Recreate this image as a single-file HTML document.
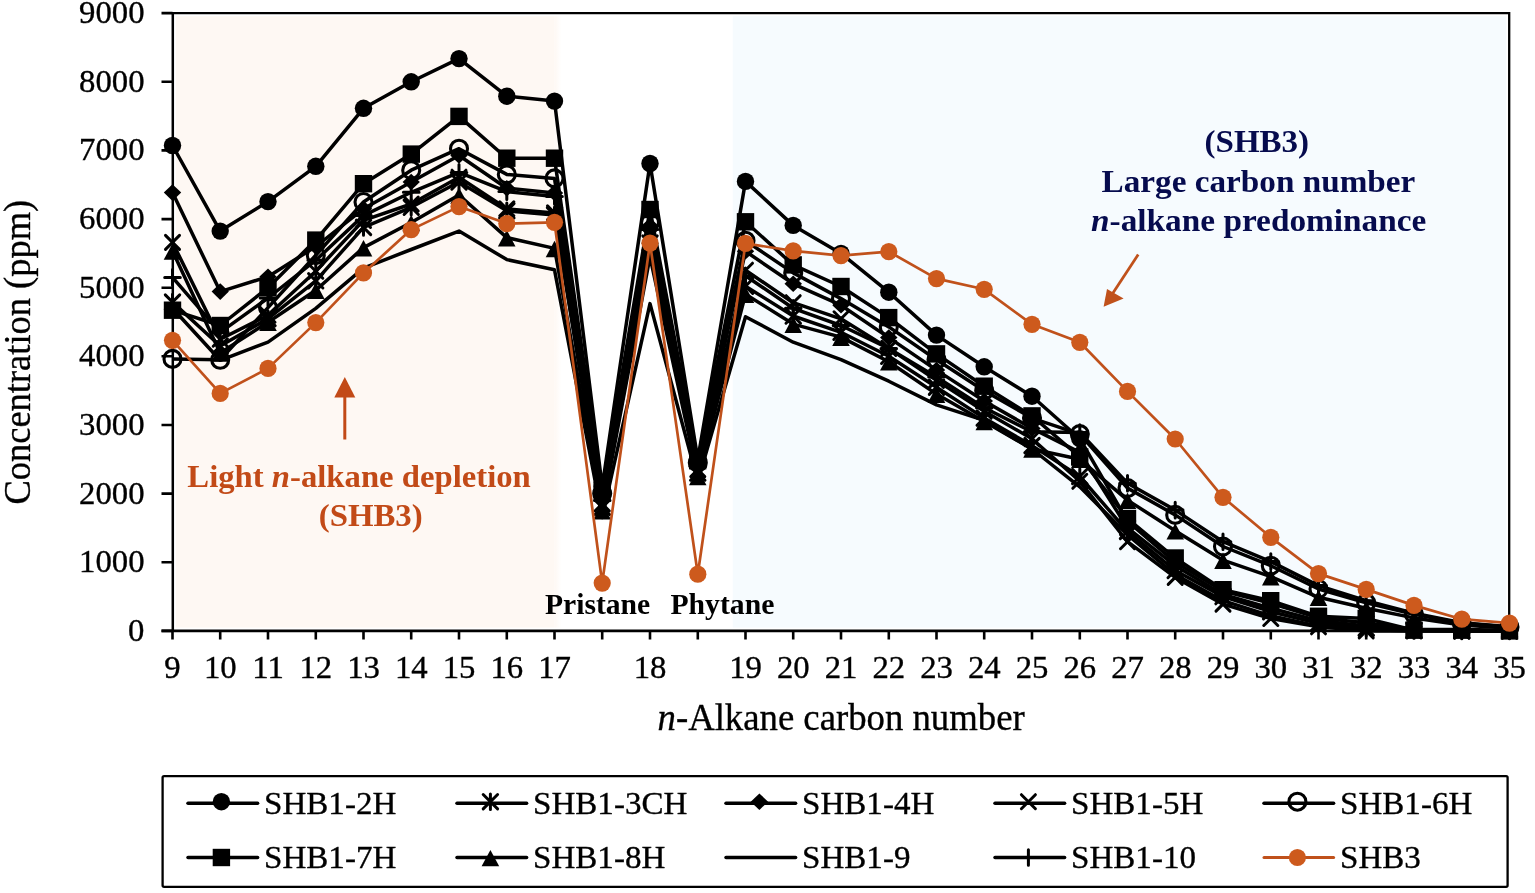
<!DOCTYPE html>
<html><head><meta charset="utf-8"><title>n-Alkane chart</title><style>html,body{margin:0;padding:0;background:#fff;}svg{display:block;}</style></head><body>
<svg width="1535" height="893" viewBox="0 0 1535 893">
<rect width="1535" height="893" fill="#fff"/>
<defs><linearGradient id="pf" x1="0" x2="1" y1="0" y2="0"><stop offset="0" stop-color="#FEF8F3"/><stop offset="1" stop-color="#FEF8F3" stop-opacity="0"/></linearGradient></defs>
<rect x="175.8" y="16.3" width="378.7" height="611.3" fill="#FEF8F3"/>
<rect x="554.5" y="16.3" width="7" height="611.3" fill="url(#pf)"/>
<rect x="732.8" y="16.3" width="773.4" height="611.3" fill="#F6FBFE"/>
<path d="M172.5 13.1H1509.2V630.9" fill="none" stroke="#000" stroke-width="2.3"/>
<path d="M172.8 12V632.1" stroke="#000" stroke-width="2.5"/>
<path d="M161.5 630.9H1510.4" stroke="#000" stroke-width="2.6"/>
<path d="M161.5 630.9H172.5 M161.5 562.3H172.5 M161.5 493.6H172.5 M161.5 425.0H172.5 M161.5 356.3H172.5 M161.5 287.7H172.5 M161.5 219.1H172.5 M161.5 150.4H172.5 M161.5 81.8H172.5 M161.5 13.1H172.5" stroke="#000" stroke-width="2.6"/>
<path d="M172.5 630.9V639.4 M220.2 630.9V639.4 M268.0 630.9V639.4 M315.8 630.9V639.4 M363.5 630.9V639.4 M411.2 630.9V639.4 M459.0 630.9V639.4 M506.8 630.9V639.4 M554.5 630.9V639.4 M602.2 630.9V639.4 M650.0 630.9V639.4 M697.8 630.9V639.4 M745.5 630.9V639.4 M793.2 630.9V639.4 M841.0 630.9V639.4 M888.8 630.9V639.4 M936.5 630.9V639.4 M984.2 630.9V639.4 M1032.0 630.9V639.4 M1079.8 630.9V639.4 M1127.5 630.9V639.4 M1175.2 630.9V639.4 M1223.0 630.9V639.4 M1270.8 630.9V639.4 M1318.5 630.9V639.4 M1366.2 630.9V639.4 M1414.0 630.9V639.4 M1461.8 630.9V639.4 M1509.5 630.9V639.4" stroke="#000" stroke-width="2.6"/>
<text transform="translate(144.50 640.90) scale(1.03 1)" font-family="Liberation Serif, 'Times New Roman', serif" font-size="31.8" font-weight="normal" fill="#000" stroke="#000" stroke-width="0.35" text-anchor="end" >0</text>
<text transform="translate(144.50 572.26) scale(1.03 1)" font-family="Liberation Serif, 'Times New Roman', serif" font-size="31.8" font-weight="normal" fill="#000" stroke="#000" stroke-width="0.35" text-anchor="end" >1000</text>
<text transform="translate(144.50 503.62) scale(1.03 1)" font-family="Liberation Serif, 'Times New Roman', serif" font-size="31.8" font-weight="normal" fill="#000" stroke="#000" stroke-width="0.35" text-anchor="end" >2000</text>
<text transform="translate(144.50 434.98) scale(1.03 1)" font-family="Liberation Serif, 'Times New Roman', serif" font-size="31.8" font-weight="normal" fill="#000" stroke="#000" stroke-width="0.35" text-anchor="end" >3000</text>
<text transform="translate(144.50 366.34) scale(1.03 1)" font-family="Liberation Serif, 'Times New Roman', serif" font-size="31.8" font-weight="normal" fill="#000" stroke="#000" stroke-width="0.35" text-anchor="end" >4000</text>
<text transform="translate(144.50 297.70) scale(1.03 1)" font-family="Liberation Serif, 'Times New Roman', serif" font-size="31.8" font-weight="normal" fill="#000" stroke="#000" stroke-width="0.35" text-anchor="end" >5000</text>
<text transform="translate(144.50 229.06) scale(1.03 1)" font-family="Liberation Serif, 'Times New Roman', serif" font-size="31.8" font-weight="normal" fill="#000" stroke="#000" stroke-width="0.35" text-anchor="end" >6000</text>
<text transform="translate(144.50 160.42) scale(1.03 1)" font-family="Liberation Serif, 'Times New Roman', serif" font-size="31.8" font-weight="normal" fill="#000" stroke="#000" stroke-width="0.35" text-anchor="end" >7000</text>
<text transform="translate(144.50 91.78) scale(1.03 1)" font-family="Liberation Serif, 'Times New Roman', serif" font-size="31.8" font-weight="normal" fill="#000" stroke="#000" stroke-width="0.35" text-anchor="end" >8000</text>
<text transform="translate(144.50 23.14) scale(1.03 1)" font-family="Liberation Serif, 'Times New Roman', serif" font-size="31.8" font-weight="normal" fill="#000" stroke="#000" stroke-width="0.35" text-anchor="end" >9000</text>
<text transform="translate(172.50 678.20) scale(1.03 1)" font-family="Liberation Serif, 'Times New Roman', serif" font-size="31.8" font-weight="normal" fill="#000" stroke="#000" stroke-width="0.35" text-anchor="middle" >9</text>
<text transform="translate(220.25 678.20) scale(1.03 1)" font-family="Liberation Serif, 'Times New Roman', serif" font-size="31.8" font-weight="normal" fill="#000" stroke="#000" stroke-width="0.35" text-anchor="middle" >10</text>
<text transform="translate(268.00 678.20) scale(1.03 1)" font-family="Liberation Serif, 'Times New Roman', serif" font-size="31.8" font-weight="normal" fill="#000" stroke="#000" stroke-width="0.35" text-anchor="middle" >11</text>
<text transform="translate(315.75 678.20) scale(1.03 1)" font-family="Liberation Serif, 'Times New Roman', serif" font-size="31.8" font-weight="normal" fill="#000" stroke="#000" stroke-width="0.35" text-anchor="middle" >12</text>
<text transform="translate(363.50 678.20) scale(1.03 1)" font-family="Liberation Serif, 'Times New Roman', serif" font-size="31.8" font-weight="normal" fill="#000" stroke="#000" stroke-width="0.35" text-anchor="middle" >13</text>
<text transform="translate(411.25 678.20) scale(1.03 1)" font-family="Liberation Serif, 'Times New Roman', serif" font-size="31.8" font-weight="normal" fill="#000" stroke="#000" stroke-width="0.35" text-anchor="middle" >14</text>
<text transform="translate(459.00 678.20) scale(1.03 1)" font-family="Liberation Serif, 'Times New Roman', serif" font-size="31.8" font-weight="normal" fill="#000" stroke="#000" stroke-width="0.35" text-anchor="middle" >15</text>
<text transform="translate(506.75 678.20) scale(1.03 1)" font-family="Liberation Serif, 'Times New Roman', serif" font-size="31.8" font-weight="normal" fill="#000" stroke="#000" stroke-width="0.35" text-anchor="middle" >16</text>
<text transform="translate(554.50 678.20) scale(1.03 1)" font-family="Liberation Serif, 'Times New Roman', serif" font-size="31.8" font-weight="normal" fill="#000" stroke="#000" stroke-width="0.35" text-anchor="middle" >17</text>
<text transform="translate(650.00 678.20) scale(1.03 1)" font-family="Liberation Serif, 'Times New Roman', serif" font-size="31.8" font-weight="normal" fill="#000" stroke="#000" stroke-width="0.35" text-anchor="middle" >18</text>
<text transform="translate(745.50 678.20) scale(1.03 1)" font-family="Liberation Serif, 'Times New Roman', serif" font-size="31.8" font-weight="normal" fill="#000" stroke="#000" stroke-width="0.35" text-anchor="middle" >19</text>
<text transform="translate(793.25 678.20) scale(1.03 1)" font-family="Liberation Serif, 'Times New Roman', serif" font-size="31.8" font-weight="normal" fill="#000" stroke="#000" stroke-width="0.35" text-anchor="middle" >20</text>
<text transform="translate(841.00 678.20) scale(1.03 1)" font-family="Liberation Serif, 'Times New Roman', serif" font-size="31.8" font-weight="normal" fill="#000" stroke="#000" stroke-width="0.35" text-anchor="middle" >21</text>
<text transform="translate(888.75 678.20) scale(1.03 1)" font-family="Liberation Serif, 'Times New Roman', serif" font-size="31.8" font-weight="normal" fill="#000" stroke="#000" stroke-width="0.35" text-anchor="middle" >22</text>
<text transform="translate(936.50 678.20) scale(1.03 1)" font-family="Liberation Serif, 'Times New Roman', serif" font-size="31.8" font-weight="normal" fill="#000" stroke="#000" stroke-width="0.35" text-anchor="middle" >23</text>
<text transform="translate(984.25 678.20) scale(1.03 1)" font-family="Liberation Serif, 'Times New Roman', serif" font-size="31.8" font-weight="normal" fill="#000" stroke="#000" stroke-width="0.35" text-anchor="middle" >24</text>
<text transform="translate(1032.00 678.20) scale(1.03 1)" font-family="Liberation Serif, 'Times New Roman', serif" font-size="31.8" font-weight="normal" fill="#000" stroke="#000" stroke-width="0.35" text-anchor="middle" >25</text>
<text transform="translate(1079.75 678.20) scale(1.03 1)" font-family="Liberation Serif, 'Times New Roman', serif" font-size="31.8" font-weight="normal" fill="#000" stroke="#000" stroke-width="0.35" text-anchor="middle" >26</text>
<text transform="translate(1127.50 678.20) scale(1.03 1)" font-family="Liberation Serif, 'Times New Roman', serif" font-size="31.8" font-weight="normal" fill="#000" stroke="#000" stroke-width="0.35" text-anchor="middle" >27</text>
<text transform="translate(1175.25 678.20) scale(1.03 1)" font-family="Liberation Serif, 'Times New Roman', serif" font-size="31.8" font-weight="normal" fill="#000" stroke="#000" stroke-width="0.35" text-anchor="middle" >28</text>
<text transform="translate(1223.00 678.20) scale(1.03 1)" font-family="Liberation Serif, 'Times New Roman', serif" font-size="31.8" font-weight="normal" fill="#000" stroke="#000" stroke-width="0.35" text-anchor="middle" >29</text>
<text transform="translate(1270.75 678.20) scale(1.03 1)" font-family="Liberation Serif, 'Times New Roman', serif" font-size="31.8" font-weight="normal" fill="#000" stroke="#000" stroke-width="0.35" text-anchor="middle" >30</text>
<text transform="translate(1318.50 678.20) scale(1.03 1)" font-family="Liberation Serif, 'Times New Roman', serif" font-size="31.8" font-weight="normal" fill="#000" stroke="#000" stroke-width="0.35" text-anchor="middle" >31</text>
<text transform="translate(1366.25 678.20) scale(1.03 1)" font-family="Liberation Serif, 'Times New Roman', serif" font-size="31.8" font-weight="normal" fill="#000" stroke="#000" stroke-width="0.35" text-anchor="middle" >32</text>
<text transform="translate(1414.00 678.20) scale(1.03 1)" font-family="Liberation Serif, 'Times New Roman', serif" font-size="31.8" font-weight="normal" fill="#000" stroke="#000" stroke-width="0.35" text-anchor="middle" >33</text>
<text transform="translate(1461.75 678.20) scale(1.03 1)" font-family="Liberation Serif, 'Times New Roman', serif" font-size="31.8" font-weight="normal" fill="#000" stroke="#000" stroke-width="0.35" text-anchor="middle" >34</text>
<text transform="translate(1509.50 678.20) scale(1.03 1)" font-family="Liberation Serif, 'Times New Roman', serif" font-size="31.8" font-weight="normal" fill="#000" stroke="#000" stroke-width="0.35" text-anchor="middle" >35</text>
<text transform="translate(544.90 614.10) scale(1.005 1)" font-family="Liberation Serif, 'Times New Roman', serif" font-size="29.5" font-weight="bold" fill="#000" stroke="#000" stroke-width="0" text-anchor="start" >Pristane</text>
<text transform="translate(670.40 613.90) scale(1.007 1)" font-family="Liberation Serif, 'Times New Roman', serif" font-size="29.5" font-weight="bold" fill="#000" stroke="#000" stroke-width="0" text-anchor="start" >Phytane</text>
<polyline points="172.5,145.5 220.2,231.1 268.0,201.6 315.8,166.3 363.5,108.3 411.2,81.8 459.0,58.6 506.8,96.2 554.5,101.1 602.2,486.8 650.0,163.5 697.8,459.3 745.5,181.4 793.2,225.4 841.0,253.4 888.8,292.2 936.5,335.1 984.2,366.8 1032.0,396.2 1079.8,438.7 1127.5,521.1 1175.2,562.3 1223.0,591.1 1270.8,603.4 1318.5,617.9 1366.2,622.7 1414.0,629.5 1461.8,629.5 1509.5,630.2" fill="none" stroke="#000" stroke-width="3.5" stroke-linejoin="round"/>
<circle cx="172.5" cy="145.5" r="8.7" fill="#000"/>
<circle cx="220.2" cy="231.1" r="8.7" fill="#000"/>
<circle cx="268.0" cy="201.6" r="8.7" fill="#000"/>
<circle cx="315.8" cy="166.3" r="8.7" fill="#000"/>
<circle cx="363.5" cy="108.3" r="8.7" fill="#000"/>
<circle cx="411.2" cy="81.8" r="8.7" fill="#000"/>
<circle cx="459.0" cy="58.6" r="8.7" fill="#000"/>
<circle cx="506.8" cy="96.2" r="8.7" fill="#000"/>
<circle cx="554.5" cy="101.1" r="8.7" fill="#000"/>
<circle cx="602.2" cy="486.8" r="8.7" fill="#000"/>
<circle cx="650.0" cy="163.5" r="8.7" fill="#000"/>
<circle cx="697.8" cy="459.3" r="8.7" fill="#000"/>
<circle cx="745.5" cy="181.4" r="8.7" fill="#000"/>
<circle cx="793.2" cy="225.4" r="8.7" fill="#000"/>
<circle cx="841.0" cy="253.4" r="8.7" fill="#000"/>
<circle cx="888.8" cy="292.2" r="8.7" fill="#000"/>
<circle cx="936.5" cy="335.1" r="8.7" fill="#000"/>
<circle cx="984.2" cy="366.8" r="8.7" fill="#000"/>
<circle cx="1032.0" cy="396.2" r="8.7" fill="#000"/>
<circle cx="1079.8" cy="438.7" r="8.7" fill="#000"/>
<circle cx="1127.5" cy="521.1" r="8.7" fill="#000"/>
<circle cx="1175.2" cy="562.3" r="8.7" fill="#000"/>
<circle cx="1223.0" cy="591.1" r="8.7" fill="#000"/>
<circle cx="1270.8" cy="603.4" r="8.7" fill="#000"/>
<circle cx="1318.5" cy="617.9" r="8.7" fill="#000"/>
<circle cx="1366.2" cy="622.7" r="8.7" fill="#000"/>
<circle cx="1414.0" cy="629.5" r="8.7" fill="#000"/>
<circle cx="1461.8" cy="629.5" r="8.7" fill="#000"/>
<circle cx="1509.5" cy="630.2" r="8.7" fill="#000"/>
<polyline points="172.5,302.1 220.2,346.0 268.0,318.6 315.8,280.8 363.5,227.4 411.2,207.3 459.0,182.0 506.8,210.8 554.5,214.9 602.2,507.3 650.0,243.1 697.8,473.0 745.5,286.2 793.2,316.0 841.0,332.3 888.8,356.3 936.5,387.2 984.2,418.1 1032.0,445.6 1079.8,476.5 1127.5,531.4 1175.2,570.5 1223.0,596.6 1270.8,611.7 1318.5,623.3 1366.2,628.2 1414.0,630.2 1461.8,630.9 1509.5,630.9" fill="none" stroke="#000" stroke-width="3.5" stroke-linejoin="round"/>
<path d="M165.3 294.9L179.7 309.3M179.7 294.9L165.3 309.3M172.5 294.3L172.5 309.9" stroke="#000" stroke-width="3" stroke-linecap="round" fill="none"/>
<path d="M213.1 338.8L227.4 353.2M227.4 338.8L213.1 353.2M220.2 338.2L220.2 353.8" stroke="#000" stroke-width="3" stroke-linecap="round" fill="none"/>
<path d="M260.8 311.4L275.2 325.8M275.2 311.4L260.8 325.8M268.0 310.8L268.0 326.4" stroke="#000" stroke-width="3" stroke-linecap="round" fill="none"/>
<path d="M308.6 273.6L322.9 288.0M322.9 273.6L308.6 288.0M315.8 273.0L315.8 288.6" stroke="#000" stroke-width="3" stroke-linecap="round" fill="none"/>
<path d="M356.3 220.2L370.7 234.6M370.7 220.2L356.3 234.6M363.5 219.6L363.5 235.2" stroke="#000" stroke-width="3" stroke-linecap="round" fill="none"/>
<path d="M404.1 200.1L418.4 214.5M418.4 200.1L404.1 214.5M411.2 199.5L411.2 215.1" stroke="#000" stroke-width="3" stroke-linecap="round" fill="none"/>
<path d="M451.8 174.8L466.2 189.2M466.2 174.8L451.8 189.2M459.0 174.2L459.0 189.8" stroke="#000" stroke-width="3" stroke-linecap="round" fill="none"/>
<path d="M499.6 203.6L514.0 218.0M514.0 203.6L499.6 218.0M506.8 203.0L506.8 218.6" stroke="#000" stroke-width="3" stroke-linecap="round" fill="none"/>
<path d="M547.3 207.7L561.7 222.1M561.7 207.7L547.3 222.1M554.5 207.1L554.5 222.7" stroke="#000" stroke-width="3" stroke-linecap="round" fill="none"/>
<path d="M595.0 500.1L609.5 514.5M609.5 500.1L595.0 514.5M602.2 499.5L602.2 515.1" stroke="#000" stroke-width="3" stroke-linecap="round" fill="none"/>
<path d="M642.8 235.9L657.2 250.3M657.2 235.9L642.8 250.3M650.0 235.3L650.0 250.9" stroke="#000" stroke-width="3" stroke-linecap="round" fill="none"/>
<path d="M690.5 465.8L705.0 480.2M705.0 465.8L690.5 480.2M697.8 465.2L697.8 480.8" stroke="#000" stroke-width="3" stroke-linecap="round" fill="none"/>
<path d="M738.3 279.0L752.7 293.4M752.7 279.0L738.3 293.4M745.5 278.4L745.5 294.0" stroke="#000" stroke-width="3" stroke-linecap="round" fill="none"/>
<path d="M786.0 308.8L800.5 323.2M800.5 308.8L786.0 323.2M793.2 308.2L793.2 323.8" stroke="#000" stroke-width="3" stroke-linecap="round" fill="none"/>
<path d="M833.8 325.1L848.2 339.5M848.2 325.1L833.8 339.5M841.0 324.5L841.0 340.1" stroke="#000" stroke-width="3" stroke-linecap="round" fill="none"/>
<path d="M881.5 349.1L896.0 363.5M896.0 349.1L881.5 363.5M888.8 348.5L888.8 364.1" stroke="#000" stroke-width="3" stroke-linecap="round" fill="none"/>
<path d="M929.3 380.0L943.7 394.4M943.7 380.0L929.3 394.4M936.5 379.4L936.5 395.0" stroke="#000" stroke-width="3" stroke-linecap="round" fill="none"/>
<path d="M977.0 410.9L991.5 425.3M991.5 410.9L977.0 425.3M984.2 410.3L984.2 425.9" stroke="#000" stroke-width="3" stroke-linecap="round" fill="none"/>
<path d="M1024.8 438.4L1039.2 452.8M1039.2 438.4L1024.8 452.8M1032.0 437.8L1032.0 453.4" stroke="#000" stroke-width="3" stroke-linecap="round" fill="none"/>
<path d="M1072.5 469.3L1087.0 483.7M1087.0 469.3L1072.5 483.7M1079.8 468.7L1079.8 484.3" stroke="#000" stroke-width="3" stroke-linecap="round" fill="none"/>
<path d="M1120.3 524.2L1134.7 538.6M1134.7 524.2L1120.3 538.6M1127.5 523.6L1127.5 539.2" stroke="#000" stroke-width="3" stroke-linecap="round" fill="none"/>
<path d="M1168.0 563.3L1182.5 577.7M1182.5 563.3L1168.0 577.7M1175.2 562.7L1175.2 578.3" stroke="#000" stroke-width="3" stroke-linecap="round" fill="none"/>
<path d="M1215.8 589.4L1230.2 603.8M1230.2 589.4L1215.8 603.8M1223.0 588.8L1223.0 604.4" stroke="#000" stroke-width="3" stroke-linecap="round" fill="none"/>
<path d="M1263.5 604.5L1278.0 618.9M1278.0 604.5L1263.5 618.9M1270.8 603.9L1270.8 619.5" stroke="#000" stroke-width="3" stroke-linecap="round" fill="none"/>
<path d="M1311.3 616.1L1325.7 630.5M1325.7 616.1L1311.3 630.5M1318.5 615.5L1318.5 631.1" stroke="#000" stroke-width="3" stroke-linecap="round" fill="none"/>
<path d="M1359.0 621.0L1373.5 635.4M1373.5 621.0L1359.0 635.4M1366.2 620.4L1366.2 636.0" stroke="#000" stroke-width="3" stroke-linecap="round" fill="none"/>
<path d="M1406.8 623.0L1421.2 637.4M1421.2 623.0L1406.8 637.4M1414.0 622.4L1414.0 638.0" stroke="#000" stroke-width="3" stroke-linecap="round" fill="none"/>
<path d="M1454.5 623.7L1469.0 638.1M1469.0 623.7L1454.5 638.1M1461.8 623.1L1461.8 638.7" stroke="#000" stroke-width="3" stroke-linecap="round" fill="none"/>
<path d="M1502.3 623.7L1516.7 638.1M1516.7 623.7L1502.3 638.1M1509.5 623.1L1509.5 638.7" stroke="#000" stroke-width="3" stroke-linecap="round" fill="none"/>
<polyline points="172.5,192.6 220.2,291.6 268.0,276.7 315.8,246.5 363.5,208.8 411.2,182.0 459.0,155.5 506.8,188.2 554.5,193.0 602.2,497.1 650.0,225.9 697.8,464.8 745.5,251.3 793.2,283.8 841.0,305.2 888.8,337.6 936.5,370.1 984.2,401.0 1032.0,428.4 1079.8,452.4 1127.5,527.9 1175.2,565.7 1223.0,594.5 1270.8,608.2 1318.5,620.6 1366.2,626.1 1414.0,629.5 1461.8,630.6 1509.5,630.9" fill="none" stroke="#000" stroke-width="3.5" stroke-linejoin="round"/>
<path d="M172.5 184.3L181.2 192.6L172.5 200.9L163.8 192.6Z" fill="#000"/>
<path d="M220.2 283.3L228.9 291.6L220.2 299.9L211.6 291.6Z" fill="#000"/>
<path d="M268.0 268.4L276.7 276.7L268.0 285.0L259.3 276.7Z" fill="#000"/>
<path d="M315.8 238.2L324.4 246.5L315.8 254.8L307.1 246.5Z" fill="#000"/>
<path d="M363.5 200.5L372.2 208.8L363.5 217.1L354.8 208.8Z" fill="#000"/>
<path d="M411.2 173.7L419.9 182.0L411.2 190.3L402.6 182.0Z" fill="#000"/>
<path d="M459.0 147.2L467.7 155.5L459.0 163.8L450.3 155.5Z" fill="#000"/>
<path d="M506.8 179.9L515.5 188.2L506.8 196.5L498.1 188.2Z" fill="#000"/>
<path d="M554.5 184.7L563.2 193.0L554.5 201.3L545.8 193.0Z" fill="#000"/>
<path d="M602.2 488.8L611.0 497.1L602.2 505.4L593.5 497.1Z" fill="#000"/>
<path d="M650.0 217.6L658.7 225.9L650.0 234.2L641.3 225.9Z" fill="#000"/>
<path d="M697.8 456.5L706.5 464.8L697.8 473.1L689.0 464.8Z" fill="#000"/>
<path d="M745.5 243.0L754.2 251.3L745.5 259.6L736.8 251.3Z" fill="#000"/>
<path d="M793.2 275.5L802.0 283.8L793.2 292.1L784.5 283.8Z" fill="#000"/>
<path d="M841.0 296.9L849.7 305.2L841.0 313.5L832.3 305.2Z" fill="#000"/>
<path d="M888.8 329.3L897.5 337.6L888.8 345.9L880.0 337.6Z" fill="#000"/>
<path d="M936.5 361.8L945.2 370.1L936.5 378.4L927.8 370.1Z" fill="#000"/>
<path d="M984.2 392.7L993.0 401.0L984.2 409.3L975.5 401.0Z" fill="#000"/>
<path d="M1032.0 420.1L1040.7 428.4L1032.0 436.7L1023.3 428.4Z" fill="#000"/>
<path d="M1079.8 444.1L1088.5 452.4L1079.8 460.7L1071.0 452.4Z" fill="#000"/>
<path d="M1127.5 519.6L1136.2 527.9L1127.5 536.2L1118.8 527.9Z" fill="#000"/>
<path d="M1175.2 557.4L1184.0 565.7L1175.2 574.0L1166.5 565.7Z" fill="#000"/>
<path d="M1223.0 586.2L1231.7 594.5L1223.0 602.8L1214.3 594.5Z" fill="#000"/>
<path d="M1270.8 599.9L1279.5 608.2L1270.8 616.5L1262.0 608.2Z" fill="#000"/>
<path d="M1318.5 612.3L1327.2 620.6L1318.5 628.9L1309.8 620.6Z" fill="#000"/>
<path d="M1366.2 617.8L1375.0 626.1L1366.2 634.4L1357.5 626.1Z" fill="#000"/>
<path d="M1414.0 621.2L1422.7 629.5L1414.0 637.8L1405.3 629.5Z" fill="#000"/>
<path d="M1461.8 622.3L1470.5 630.6L1461.8 638.9L1453.0 630.6Z" fill="#000"/>
<path d="M1509.5 622.6L1518.2 630.9L1509.5 639.2L1500.8 630.9Z" fill="#000"/>
<polyline points="172.5,242.4 220.2,339.2 268.0,315.2 315.8,271.2 363.5,220.4 411.2,204.0 459.0,177.2 506.8,208.8 554.5,212.9 602.2,503.9 650.0,236.2 697.8,469.6 745.5,270.2 793.2,302.7 841.0,318.8 888.8,348.4 936.5,380.4 984.2,411.3 1032.0,438.7 1079.8,481.3 1127.5,541.7 1175.2,577.4 1223.0,604.1 1270.8,618.5 1318.5,626.8 1366.2,630.9 1414.0,630.9 1461.8,630.9 1509.5,630.9" fill="none" stroke="#000" stroke-width="3.5" stroke-linejoin="round"/>
<path d="M165.5 235.4L179.5 249.4M179.5 235.4L165.5 249.4" stroke="#000" stroke-width="3" stroke-linecap="round" fill="none"/>
<path d="M213.2 332.2L227.2 346.2M227.2 332.2L213.2 346.2" stroke="#000" stroke-width="3" stroke-linecap="round" fill="none"/>
<path d="M261.0 308.2L275.0 322.2M275.0 308.2L261.0 322.2" stroke="#000" stroke-width="3" stroke-linecap="round" fill="none"/>
<path d="M308.8 264.2L322.8 278.2M322.8 264.2L308.8 278.2" stroke="#000" stroke-width="3" stroke-linecap="round" fill="none"/>
<path d="M356.5 213.4L370.5 227.4M370.5 213.4L356.5 227.4" stroke="#000" stroke-width="3" stroke-linecap="round" fill="none"/>
<path d="M404.2 197.0L418.2 211.0M418.2 197.0L404.2 211.0" stroke="#000" stroke-width="3" stroke-linecap="round" fill="none"/>
<path d="M452.0 170.2L466.0 184.2M466.0 170.2L452.0 184.2" stroke="#000" stroke-width="3" stroke-linecap="round" fill="none"/>
<path d="M499.8 201.8L513.8 215.8M513.8 201.8L499.8 215.8" stroke="#000" stroke-width="3" stroke-linecap="round" fill="none"/>
<path d="M547.5 205.9L561.5 219.9M561.5 205.9L547.5 219.9" stroke="#000" stroke-width="3" stroke-linecap="round" fill="none"/>
<path d="M595.2 496.9L609.2 510.9M609.2 496.9L595.2 510.9" stroke="#000" stroke-width="3" stroke-linecap="round" fill="none"/>
<path d="M643.0 229.2L657.0 243.2M657.0 229.2L643.0 243.2" stroke="#000" stroke-width="3" stroke-linecap="round" fill="none"/>
<path d="M690.8 462.6L704.8 476.6M704.8 462.6L690.8 476.6" stroke="#000" stroke-width="3" stroke-linecap="round" fill="none"/>
<path d="M738.5 263.2L752.5 277.2M752.5 263.2L738.5 277.2" stroke="#000" stroke-width="3" stroke-linecap="round" fill="none"/>
<path d="M786.2 295.7L800.2 309.7M800.2 295.7L786.2 309.7" stroke="#000" stroke-width="3" stroke-linecap="round" fill="none"/>
<path d="M834.0 311.8L848.0 325.8M848.0 311.8L834.0 325.8" stroke="#000" stroke-width="3" stroke-linecap="round" fill="none"/>
<path d="M881.8 341.4L895.8 355.4M895.8 341.4L881.8 355.4" stroke="#000" stroke-width="3" stroke-linecap="round" fill="none"/>
<path d="M929.5 373.4L943.5 387.4M943.5 373.4L929.5 387.4" stroke="#000" stroke-width="3" stroke-linecap="round" fill="none"/>
<path d="M977.2 404.3L991.2 418.3M991.2 404.3L977.2 418.3" stroke="#000" stroke-width="3" stroke-linecap="round" fill="none"/>
<path d="M1025.0 431.7L1039.0 445.7M1039.0 431.7L1025.0 445.7" stroke="#000" stroke-width="3" stroke-linecap="round" fill="none"/>
<path d="M1072.8 474.3L1086.8 488.3M1086.8 474.3L1072.8 488.3" stroke="#000" stroke-width="3" stroke-linecap="round" fill="none"/>
<path d="M1120.5 534.7L1134.5 548.7M1134.5 534.7L1120.5 548.7" stroke="#000" stroke-width="3" stroke-linecap="round" fill="none"/>
<path d="M1168.2 570.4L1182.2 584.4M1182.2 570.4L1168.2 584.4" stroke="#000" stroke-width="3" stroke-linecap="round" fill="none"/>
<path d="M1216.0 597.1L1230.0 611.1M1230.0 597.1L1216.0 611.1" stroke="#000" stroke-width="3" stroke-linecap="round" fill="none"/>
<path d="M1263.8 611.5L1277.8 625.5M1277.8 611.5L1263.8 625.5" stroke="#000" stroke-width="3" stroke-linecap="round" fill="none"/>
<path d="M1311.5 619.8L1325.5 633.8M1325.5 619.8L1311.5 633.8" stroke="#000" stroke-width="3" stroke-linecap="round" fill="none"/>
<path d="M1359.2 623.9L1373.2 637.9M1373.2 623.9L1359.2 637.9" stroke="#000" stroke-width="3" stroke-linecap="round" fill="none"/>
<path d="M1407.0 623.9L1421.0 637.9M1421.0 623.9L1407.0 637.9" stroke="#000" stroke-width="3" stroke-linecap="round" fill="none"/>
<path d="M1454.8 623.9L1468.8 637.9M1468.8 623.9L1454.8 637.9" stroke="#000" stroke-width="3" stroke-linecap="round" fill="none"/>
<path d="M1502.5 623.9L1516.5 637.9M1516.5 623.9L1502.5 637.9" stroke="#000" stroke-width="3" stroke-linecap="round" fill="none"/>
<polyline points="172.5,358.9 220.2,359.8 268.0,307.6 315.8,255.2 363.5,202.0 411.2,170.2 459.0,148.7 506.8,174.4 554.5,178.4 602.2,493.6 650.0,222.5 697.8,462.7 745.5,240.7 793.2,272.9 841.0,298.6 888.8,326.9 936.5,359.8 984.2,390.7 1032.0,418.1 1079.8,434.1 1127.5,488.1 1175.2,514.9 1223.0,546.5 1270.8,565.7 1318.5,589.0 1366.2,602.8 1414.0,614.4 1461.8,623.3 1509.5,627.1" fill="none" stroke="#000" stroke-width="3.5" stroke-linejoin="round"/>
<circle cx="172.5" cy="358.9" r="8.5" fill="none" stroke="#000" stroke-width="3.1"/>
<circle cx="220.2" cy="359.8" r="8.5" fill="none" stroke="#000" stroke-width="3.1"/>
<circle cx="268.0" cy="307.6" r="8.5" fill="none" stroke="#000" stroke-width="3.1"/>
<circle cx="315.8" cy="255.2" r="8.5" fill="none" stroke="#000" stroke-width="3.1"/>
<circle cx="363.5" cy="202.0" r="8.5" fill="none" stroke="#000" stroke-width="3.1"/>
<circle cx="411.2" cy="170.2" r="8.5" fill="none" stroke="#000" stroke-width="3.1"/>
<circle cx="459.0" cy="148.7" r="8.5" fill="none" stroke="#000" stroke-width="3.1"/>
<circle cx="506.8" cy="174.4" r="8.5" fill="none" stroke="#000" stroke-width="3.1"/>
<circle cx="554.5" cy="178.4" r="8.5" fill="none" stroke="#000" stroke-width="3.1"/>
<circle cx="602.2" cy="493.6" r="8.5" fill="none" stroke="#000" stroke-width="3.1"/>
<circle cx="650.0" cy="222.5" r="8.5" fill="none" stroke="#000" stroke-width="3.1"/>
<circle cx="697.8" cy="462.7" r="8.5" fill="none" stroke="#000" stroke-width="3.1"/>
<circle cx="745.5" cy="240.7" r="8.5" fill="none" stroke="#000" stroke-width="3.1"/>
<circle cx="793.2" cy="272.9" r="8.5" fill="none" stroke="#000" stroke-width="3.1"/>
<circle cx="841.0" cy="298.6" r="8.5" fill="none" stroke="#000" stroke-width="3.1"/>
<circle cx="888.8" cy="326.9" r="8.5" fill="none" stroke="#000" stroke-width="3.1"/>
<circle cx="936.5" cy="359.8" r="8.5" fill="none" stroke="#000" stroke-width="3.1"/>
<circle cx="984.2" cy="390.7" r="8.5" fill="none" stroke="#000" stroke-width="3.1"/>
<circle cx="1032.0" cy="418.1" r="8.5" fill="none" stroke="#000" stroke-width="3.1"/>
<circle cx="1079.8" cy="434.1" r="8.5" fill="none" stroke="#000" stroke-width="3.1"/>
<circle cx="1127.5" cy="488.1" r="8.5" fill="none" stroke="#000" stroke-width="3.1"/>
<circle cx="1175.2" cy="514.9" r="8.5" fill="none" stroke="#000" stroke-width="3.1"/>
<circle cx="1223.0" cy="546.5" r="8.5" fill="none" stroke="#000" stroke-width="3.1"/>
<circle cx="1270.8" cy="565.7" r="8.5" fill="none" stroke="#000" stroke-width="3.1"/>
<circle cx="1318.5" cy="589.0" r="8.5" fill="none" stroke="#000" stroke-width="3.1"/>
<circle cx="1366.2" cy="602.8" r="8.5" fill="none" stroke="#000" stroke-width="3.1"/>
<circle cx="1414.0" cy="614.4" r="8.5" fill="none" stroke="#000" stroke-width="3.1"/>
<circle cx="1461.8" cy="623.3" r="8.5" fill="none" stroke="#000" stroke-width="3.1"/>
<circle cx="1509.5" cy="627.1" r="8.5" fill="none" stroke="#000" stroke-width="3.1"/>
<polyline points="172.5,310.2 220.2,325.5 268.0,287.7 315.8,240.1 363.5,183.7 411.2,154.1 459.0,116.4 506.8,158.2 554.5,158.2 602.2,490.2 650.0,209.5 697.8,460.7 745.5,221.8 793.2,264.9 841.0,286.5 888.8,317.6 936.5,353.9 984.2,386.2 1032.0,415.9 1079.8,457.0 1127.5,518.5 1175.2,558.0 1223.0,589.7 1270.8,600.7 1318.5,616.3 1366.2,618.5 1414.0,630.2 1461.8,630.2 1509.5,630.9" fill="none" stroke="#000" stroke-width="3.5" stroke-linejoin="round"/>
<rect x="163.8" y="301.5" width="17.4" height="17.4" fill="#000"/>
<rect x="211.6" y="316.8" width="17.4" height="17.4" fill="#000"/>
<rect x="259.3" y="279.0" width="17.4" height="17.4" fill="#000"/>
<rect x="307.1" y="231.4" width="17.4" height="17.4" fill="#000"/>
<rect x="354.8" y="175.0" width="17.4" height="17.4" fill="#000"/>
<rect x="402.6" y="145.4" width="17.4" height="17.4" fill="#000"/>
<rect x="450.3" y="107.7" width="17.4" height="17.4" fill="#000"/>
<rect x="498.1" y="149.5" width="17.4" height="17.4" fill="#000"/>
<rect x="545.8" y="149.5" width="17.4" height="17.4" fill="#000"/>
<rect x="593.5" y="481.5" width="17.4" height="17.4" fill="#000"/>
<rect x="641.3" y="200.8" width="17.4" height="17.4" fill="#000"/>
<rect x="689.0" y="452.0" width="17.4" height="17.4" fill="#000"/>
<rect x="736.8" y="213.1" width="17.4" height="17.4" fill="#000"/>
<rect x="784.5" y="256.2" width="17.4" height="17.4" fill="#000"/>
<rect x="832.3" y="277.8" width="17.4" height="17.4" fill="#000"/>
<rect x="880.0" y="308.9" width="17.4" height="17.4" fill="#000"/>
<rect x="927.8" y="345.2" width="17.4" height="17.4" fill="#000"/>
<rect x="975.5" y="377.5" width="17.4" height="17.4" fill="#000"/>
<rect x="1023.3" y="407.2" width="17.4" height="17.4" fill="#000"/>
<rect x="1071.0" y="448.3" width="17.4" height="17.4" fill="#000"/>
<rect x="1118.8" y="509.8" width="17.4" height="17.4" fill="#000"/>
<rect x="1166.5" y="549.3" width="17.4" height="17.4" fill="#000"/>
<rect x="1214.3" y="581.0" width="17.4" height="17.4" fill="#000"/>
<rect x="1262.0" y="592.0" width="17.4" height="17.4" fill="#000"/>
<rect x="1309.8" y="607.6" width="17.4" height="17.4" fill="#000"/>
<rect x="1357.5" y="609.8" width="17.4" height="17.4" fill="#000"/>
<rect x="1405.3" y="621.5" width="17.4" height="17.4" fill="#000"/>
<rect x="1453.0" y="621.5" width="17.4" height="17.4" fill="#000"/>
<rect x="1500.8" y="622.2" width="17.4" height="17.4" fill="#000"/>
<polyline points="172.5,251.0 220.2,352.9 268.0,322.2 315.8,290.2 363.5,247.6 411.2,222.5 459.0,195.0 506.8,237.6 554.5,248.4 602.2,510.8 650.0,256.8 697.8,476.5 745.5,294.2 793.2,324.1 841.0,337.1 888.8,361.8 936.5,394.1 984.2,421.5 1032.0,449.0 1079.8,459.3 1127.5,500.1 1175.2,530.8 1223.0,560.2 1270.8,576.7 1318.5,597.3 1366.2,608.2 1414.0,617.9 1461.8,625.1 1509.5,628.2" fill="none" stroke="#000" stroke-width="3.5" stroke-linejoin="round"/>
<path d="M172.5 243.4L181.3 259.8L163.7 259.8Z" fill="#000"/>
<path d="M220.2 345.3L229.1 361.7L211.4 361.7Z" fill="#000"/>
<path d="M268.0 314.6L276.8 331.0L259.2 331.0Z" fill="#000"/>
<path d="M315.8 282.6L324.6 299.0L306.9 299.0Z" fill="#000"/>
<path d="M363.5 240.0L372.3 256.4L354.7 256.4Z" fill="#000"/>
<path d="M411.2 214.9L420.1 231.3L402.4 231.3Z" fill="#000"/>
<path d="M459.0 187.4L467.8 203.8L450.2 203.8Z" fill="#000"/>
<path d="M506.8 230.0L515.5 246.4L497.9 246.4Z" fill="#000"/>
<path d="M554.5 240.8L563.3 257.2L545.7 257.2Z" fill="#000"/>
<path d="M602.2 503.2L611.0 519.6L593.5 519.6Z" fill="#000"/>
<path d="M650.0 249.2L658.8 265.6L641.2 265.6Z" fill="#000"/>
<path d="M697.8 468.9L706.5 485.3L689.0 485.3Z" fill="#000"/>
<path d="M745.5 286.6L754.3 303.0L736.7 303.0Z" fill="#000"/>
<path d="M793.2 316.5L802.0 332.9L784.5 332.9Z" fill="#000"/>
<path d="M841.0 329.5L849.8 345.9L832.2 345.9Z" fill="#000"/>
<path d="M888.8 354.2L897.5 370.6L880.0 370.6Z" fill="#000"/>
<path d="M936.5 386.5L945.3 402.9L927.7 402.9Z" fill="#000"/>
<path d="M984.2 413.9L993.0 430.3L975.5 430.3Z" fill="#000"/>
<path d="M1032.0 441.4L1040.8 457.8L1023.2 457.8Z" fill="#000"/>
<path d="M1079.8 451.7L1088.5 468.1L1071.0 468.1Z" fill="#000"/>
<path d="M1127.5 492.5L1136.3 508.9L1118.7 508.9Z" fill="#000"/>
<path d="M1175.2 523.2L1184.0 539.6L1166.5 539.6Z" fill="#000"/>
<path d="M1223.0 552.6L1231.8 569.0L1214.2 569.0Z" fill="#000"/>
<path d="M1270.8 569.1L1279.5 585.5L1262.0 585.5Z" fill="#000"/>
<path d="M1318.5 589.7L1327.3 606.1L1309.7 606.1Z" fill="#000"/>
<path d="M1366.2 600.6L1375.0 617.0L1357.5 617.0Z" fill="#000"/>
<path d="M1414.0 610.3L1422.8 626.7L1405.2 626.7Z" fill="#000"/>
<path d="M1461.8 617.5L1470.5 633.9L1453.0 633.9Z" fill="#000"/>
<path d="M1509.5 620.6L1518.3 637.0L1500.7 637.0Z" fill="#000"/>
<polyline points="172.5,308.3 220.2,360.3 268.0,342.1 315.8,308.4 363.5,268.1 411.2,249.5 459.0,231.1 506.8,259.6 554.5,269.8 602.2,517.6 650.0,303.6 697.8,481.3 745.5,316.7 793.2,342.2 841.0,359.7 888.8,381.2 936.5,404.9 984.2,420.4 1032.0,449.0 1079.8,486.8 1127.5,534.8 1175.2,574.6 1223.0,600.7 1270.8,615.8 1318.5,626.1 1366.2,629.5 1414.0,630.9 1461.8,630.9 1509.5,630.9" fill="none" stroke="#000" stroke-width="3.5" stroke-linejoin="round"/>
<polyline points="172.5,277.4 220.2,332.3 268.0,298.0 315.8,260.2 363.5,215.6 411.2,192.3 459.0,172.4 506.8,191.6 554.5,196.4 602.2,500.5 650.0,229.4 697.8,466.2 745.5,275.7 793.2,308.3 841.0,325.5 888.8,348.4 936.5,376.9 984.2,407.8 1032.0,431.8 1079.8,432.5 1127.5,483.3 1175.2,510.1 1223.0,541.7 1270.8,561.6 1318.5,585.6 1366.2,600.7 1414.0,613.1 1461.8,622.7 1509.5,626.8" fill="none" stroke="#000" stroke-width="3.5" stroke-linejoin="round"/>
<path d="M164.7 277.4L180.3 277.4M172.5 269.6L172.5 285.2" stroke="#000" stroke-width="3" stroke-linecap="round" fill="none"/>
<path d="M212.4 332.3L228.1 332.3M220.2 324.5L220.2 340.1" stroke="#000" stroke-width="3" stroke-linecap="round" fill="none"/>
<path d="M260.2 298.0L275.8 298.0M268.0 290.2L268.0 305.8" stroke="#000" stroke-width="3" stroke-linecap="round" fill="none"/>
<path d="M307.9 260.2L323.6 260.2M315.8 252.4L315.8 268.0" stroke="#000" stroke-width="3" stroke-linecap="round" fill="none"/>
<path d="M355.7 215.6L371.3 215.6M363.5 207.8L363.5 223.4" stroke="#000" stroke-width="3" stroke-linecap="round" fill="none"/>
<path d="M403.4 192.3L419.1 192.3M411.2 184.5L411.2 200.1" stroke="#000" stroke-width="3" stroke-linecap="round" fill="none"/>
<path d="M451.2 172.4L466.8 172.4M459.0 164.6L459.0 180.2" stroke="#000" stroke-width="3" stroke-linecap="round" fill="none"/>
<path d="M498.9 191.6L514.5 191.6M506.8 183.8L506.8 199.4" stroke="#000" stroke-width="3" stroke-linecap="round" fill="none"/>
<path d="M546.7 196.4L562.3 196.4M554.5 188.6L554.5 204.2" stroke="#000" stroke-width="3" stroke-linecap="round" fill="none"/>
<path d="M594.5 500.5L610.0 500.5M602.2 492.7L602.2 508.3" stroke="#000" stroke-width="3" stroke-linecap="round" fill="none"/>
<path d="M642.2 229.4L657.8 229.4M650.0 221.6L650.0 237.2" stroke="#000" stroke-width="3" stroke-linecap="round" fill="none"/>
<path d="M690.0 466.2L705.5 466.2M697.8 458.4L697.8 474.0" stroke="#000" stroke-width="3" stroke-linecap="round" fill="none"/>
<path d="M737.7 275.7L753.3 275.7M745.5 267.9L745.5 283.5" stroke="#000" stroke-width="3" stroke-linecap="round" fill="none"/>
<path d="M785.5 308.3L801.0 308.3M793.2 300.5L793.2 316.1" stroke="#000" stroke-width="3" stroke-linecap="round" fill="none"/>
<path d="M833.2 325.5L848.8 325.5M841.0 317.7L841.0 333.3" stroke="#000" stroke-width="3" stroke-linecap="round" fill="none"/>
<path d="M881.0 348.4L896.5 348.4M888.8 340.6L888.8 356.2" stroke="#000" stroke-width="3" stroke-linecap="round" fill="none"/>
<path d="M928.7 376.9L944.3 376.9M936.5 369.1L936.5 384.7" stroke="#000" stroke-width="3" stroke-linecap="round" fill="none"/>
<path d="M976.5 407.8L992.0 407.8M984.2 400.0L984.2 415.6" stroke="#000" stroke-width="3" stroke-linecap="round" fill="none"/>
<path d="M1024.2 431.8L1039.8 431.8M1032.0 424.0L1032.0 439.6" stroke="#000" stroke-width="3" stroke-linecap="round" fill="none"/>
<path d="M1072.0 432.5L1087.5 432.5M1079.8 424.7L1079.8 440.3" stroke="#000" stroke-width="3" stroke-linecap="round" fill="none"/>
<path d="M1119.7 483.3L1135.3 483.3M1127.5 475.5L1127.5 491.1" stroke="#000" stroke-width="3" stroke-linecap="round" fill="none"/>
<path d="M1167.5 510.1L1183.0 510.1M1175.2 502.3L1175.2 517.9" stroke="#000" stroke-width="3" stroke-linecap="round" fill="none"/>
<path d="M1215.2 541.7L1230.8 541.7M1223.0 533.9L1223.0 549.5" stroke="#000" stroke-width="3" stroke-linecap="round" fill="none"/>
<path d="M1263.0 561.6L1278.5 561.6M1270.8 553.8L1270.8 569.4" stroke="#000" stroke-width="3" stroke-linecap="round" fill="none"/>
<path d="M1310.7 585.6L1326.3 585.6M1318.5 577.8L1318.5 593.4" stroke="#000" stroke-width="3" stroke-linecap="round" fill="none"/>
<path d="M1358.5 600.7L1374.0 600.7M1366.2 592.9L1366.2 608.5" stroke="#000" stroke-width="3" stroke-linecap="round" fill="none"/>
<path d="M1406.2 613.1L1421.8 613.1M1414.0 605.3L1414.0 620.9" stroke="#000" stroke-width="3" stroke-linecap="round" fill="none"/>
<path d="M1454.0 622.7L1469.5 622.7M1461.8 614.9L1461.8 630.5" stroke="#000" stroke-width="3" stroke-linecap="round" fill="none"/>
<path d="M1501.7 626.8L1517.3 626.8M1509.5 619.0L1509.5 634.6" stroke="#000" stroke-width="3" stroke-linecap="round" fill="none"/>
<polyline points="172.5,340.3 220.2,393.4 268.0,368.4 315.8,322.6 363.5,272.9 411.2,229.6 459.0,206.6 506.8,223.6 554.5,222.3 602.2,583.1 650.0,243.1 697.8,574.2 745.5,243.4 793.2,250.9 841.0,255.6 888.8,251.6 936.5,278.6 984.2,289.3 1032.0,324.3 1079.8,342.3 1127.5,391.4 1175.2,439.0 1223.0,497.3 1270.8,537.3 1318.5,573.6 1366.2,589.4 1414.0,605.4 1461.8,619.2 1509.5,623.1" fill="none" stroke="#C0511B" stroke-width="2.7" stroke-linejoin="round"/>
<circle cx="172.5" cy="340.3" r="8.6" fill="#CD5A1D"/>
<circle cx="220.2" cy="393.4" r="8.6" fill="#CD5A1D"/>
<circle cx="268.0" cy="368.4" r="8.6" fill="#CD5A1D"/>
<circle cx="315.8" cy="322.6" r="8.6" fill="#CD5A1D"/>
<circle cx="363.5" cy="272.9" r="8.6" fill="#CD5A1D"/>
<circle cx="411.2" cy="229.6" r="8.6" fill="#CD5A1D"/>
<circle cx="459.0" cy="206.6" r="8.6" fill="#CD5A1D"/>
<circle cx="506.8" cy="223.6" r="8.6" fill="#CD5A1D"/>
<circle cx="554.5" cy="222.3" r="8.6" fill="#CD5A1D"/>
<circle cx="602.2" cy="583.1" r="8.6" fill="#CD5A1D"/>
<circle cx="650.0" cy="243.1" r="8.6" fill="#CD5A1D"/>
<circle cx="697.8" cy="574.2" r="8.6" fill="#CD5A1D"/>
<circle cx="745.5" cy="243.4" r="8.6" fill="#CD5A1D"/>
<circle cx="793.2" cy="250.9" r="8.6" fill="#CD5A1D"/>
<circle cx="841.0" cy="255.6" r="8.6" fill="#CD5A1D"/>
<circle cx="888.8" cy="251.6" r="8.6" fill="#CD5A1D"/>
<circle cx="936.5" cy="278.6" r="8.6" fill="#CD5A1D"/>
<circle cx="984.2" cy="289.3" r="8.6" fill="#CD5A1D"/>
<circle cx="1032.0" cy="324.3" r="8.6" fill="#CD5A1D"/>
<circle cx="1079.8" cy="342.3" r="8.6" fill="#CD5A1D"/>
<circle cx="1127.5" cy="391.4" r="8.6" fill="#CD5A1D"/>
<circle cx="1175.2" cy="439.0" r="8.6" fill="#CD5A1D"/>
<circle cx="1223.0" cy="497.3" r="8.6" fill="#CD5A1D"/>
<circle cx="1270.8" cy="537.3" r="8.6" fill="#CD5A1D"/>
<circle cx="1318.5" cy="573.6" r="8.6" fill="#CD5A1D"/>
<circle cx="1366.2" cy="589.4" r="8.6" fill="#CD5A1D"/>
<circle cx="1414.0" cy="605.4" r="8.6" fill="#CD5A1D"/>
<circle cx="1461.8" cy="619.2" r="8.6" fill="#CD5A1D"/>
<circle cx="1509.5" cy="623.1" r="8.6" fill="#CD5A1D"/>
<text transform="translate(1204.58 152.40) scale(1.065 1)" font-family="Liberation Serif, 'Times New Roman', serif" font-size="31.0" font-weight="bold" fill="#060B4E" stroke="#060B4E" stroke-width="0" text-anchor="start" >(SHB3)</text>
<text transform="translate(1101.54 192.20) scale(1.072 1)" font-family="Liberation Serif, 'Times New Roman', serif" font-size="31.0" font-weight="bold" fill="#060B4E" stroke="#060B4E" stroke-width="0" text-anchor="start" >Large carbon number</text>
<text transform="translate(1091.03 230.50) scale(1.075 1)" font-family="Liberation Serif, 'Times New Roman', serif" font-size="31.0" font-weight="bold" fill="#060B4E" stroke="#060B4E" stroke-width="0" text-anchor="start" ><tspan font-style="italic">n</tspan>-alkane predominance</text>
<path d="M1138.2 254.6L1111 296" stroke="#C0511B" stroke-width="2.8"/>
<path d="M1103.6 306.8L1107 289L1123.6 298.6Z" fill="#C0511B"/>
<text transform="translate(187.35 487.00) scale(1.055 1)" font-family="Liberation Serif, 'Times New Roman', serif" font-size="31.0" font-weight="bold" fill="#C24A17" stroke="#C24A17" stroke-width="0" text-anchor="start" >Light <tspan font-style="italic">n</tspan>-alkane depletion</text>
<text transform="translate(318.69 526.20) scale(1.06 1)" font-family="Liberation Serif, 'Times New Roman', serif" font-size="31.0" font-weight="bold" fill="#C24A17" stroke="#C24A17" stroke-width="0" text-anchor="start" >(SHB3)</text>
<path d="M344.8 439.5V394" stroke="#C24A17" stroke-width="3"/>
<path d="M344.8 377L355.3 397.5H334.3Z" fill="#C24A17"/>
<text transform="translate(29.8 504.56) rotate(-90) scale(0.978 1)" font-family="Liberation Serif, 'Times New Roman', serif" font-size="37.3" stroke="#000" stroke-width="0.35">Concentration (ppm)</text>
<text transform="translate(657.53 729.70) scale(0.967 1)" font-family="Liberation Serif, 'Times New Roman', serif" font-size="38" font-weight="normal" fill="#000" stroke="#000" stroke-width="0.35" text-anchor="start" ><tspan font-style="italic">n</tspan>-Alkane carbon number</text>
<rect x="162.6" y="776.1" width="1345" height="110.7" rx="1.5" fill="#fff" stroke="#000" stroke-width="2.3"/>
<path d="M188.0 803.3H257.6" stroke="#000" stroke-width="3.5" stroke-linecap="round"/>
<circle cx="221.4" cy="801.7" r="8.7" fill="#000"/>
<text transform="translate(264.09 814.00) scale(1.02 1)" font-family="Liberation Serif, 'Times New Roman', serif" font-size="32.4" font-weight="normal" fill="#000" stroke="#000" stroke-width="0.35" text-anchor="start" >SHB1-2H</text>
<path d="M457.0 803.3H526.6" stroke="#000" stroke-width="3.5" stroke-linecap="round"/>
<path d="M483.2 794.5L497.6 808.9M497.6 794.5L483.2 808.9M490.4 793.9L490.4 809.5" stroke="#000" stroke-width="3" stroke-linecap="round" fill="none"/>
<text transform="translate(533.09 814.00) scale(1.02 1)" font-family="Liberation Serif, 'Times New Roman', serif" font-size="32.4" font-weight="normal" fill="#000" stroke="#000" stroke-width="0.35" text-anchor="start" >SHB1-3CH</text>
<path d="M726.0 803.3H795.6" stroke="#000" stroke-width="3.5" stroke-linecap="round"/>
<path d="M759.4 793.4L768.1 801.7L759.4 810.0L750.7 801.7Z" fill="#000"/>
<text transform="translate(802.09 814.00) scale(1.02 1)" font-family="Liberation Serif, 'Times New Roman', serif" font-size="32.4" font-weight="normal" fill="#000" stroke="#000" stroke-width="0.35" text-anchor="start" >SHB1-4H</text>
<path d="M995.0 803.3H1064.6" stroke="#000" stroke-width="3.5" stroke-linecap="round"/>
<path d="M1021.4 794.7L1035.4 808.7M1035.4 794.7L1021.4 808.7" stroke="#000" stroke-width="3" stroke-linecap="round" fill="none"/>
<text transform="translate(1071.09 814.00) scale(1.02 1)" font-family="Liberation Serif, 'Times New Roman', serif" font-size="32.4" font-weight="normal" fill="#000" stroke="#000" stroke-width="0.35" text-anchor="start" >SHB1-5H</text>
<path d="M1264.0 803.3H1333.6" stroke="#000" stroke-width="3.5" stroke-linecap="round"/>
<circle cx="1297.4" cy="801.7" r="8.5" fill="none" stroke="#000" stroke-width="3.1"/>
<text transform="translate(1340.09 814.00) scale(1.02 1)" font-family="Liberation Serif, 'Times New Roman', serif" font-size="32.4" font-weight="normal" fill="#000" stroke="#000" stroke-width="0.35" text-anchor="start" >SHB1-6H</text>
<path d="M188.0 857.5H257.6" stroke="#000" stroke-width="3.5" stroke-linecap="round"/>
<rect x="212.7" y="848.8" width="17.4" height="17.4" fill="#000"/>
<text transform="translate(264.09 868.10) scale(1.02 1)" font-family="Liberation Serif, 'Times New Roman', serif" font-size="32.4" font-weight="normal" fill="#000" stroke="#000" stroke-width="0.35" text-anchor="start" >SHB1-7H</text>
<path d="M457.0 857.5H526.6" stroke="#000" stroke-width="3.5" stroke-linecap="round"/>
<path d="M490.4 849.9L499.2 866.3L481.6 866.3Z" fill="#000"/>
<text transform="translate(533.09 868.10) scale(1.02 1)" font-family="Liberation Serif, 'Times New Roman', serif" font-size="32.4" font-weight="normal" fill="#000" stroke="#000" stroke-width="0.35" text-anchor="start" >SHB1-8H</text>
<path d="M726.0 857.5H795.6" stroke="#000" stroke-width="3.5" stroke-linecap="round"/>
<text transform="translate(802.09 868.10) scale(1.02 1)" font-family="Liberation Serif, 'Times New Roman', serif" font-size="32.4" font-weight="normal" fill="#000" stroke="#000" stroke-width="0.35" text-anchor="start" >SHB1-9</text>
<path d="M995.0 857.5H1064.6" stroke="#000" stroke-width="3.5" stroke-linecap="round"/>
<path d="M1020.6 857.5L1036.2 857.5M1028.4 849.7L1028.4 865.3" stroke="#000" stroke-width="3" stroke-linecap="round" fill="none"/>
<text transform="translate(1071.09 868.10) scale(1.02 1)" font-family="Liberation Serif, 'Times New Roman', serif" font-size="32.4" font-weight="normal" fill="#000" stroke="#000" stroke-width="0.35" text-anchor="start" >SHB1-10</text>
<path d="M1264.0 857.5H1333.6" stroke="#C0511B" stroke-width="3.0" stroke-linecap="round"/>
<circle cx="1297.4" cy="857.5" r="8.6" fill="#CD5A1D"/>
<text transform="translate(1340.09 868.10) scale(1.02 1)" font-family="Liberation Serif, 'Times New Roman', serif" font-size="32.4" font-weight="normal" fill="#000" stroke="#000" stroke-width="0.35" text-anchor="start" >SHB3</text>
</svg>
</body></html>
